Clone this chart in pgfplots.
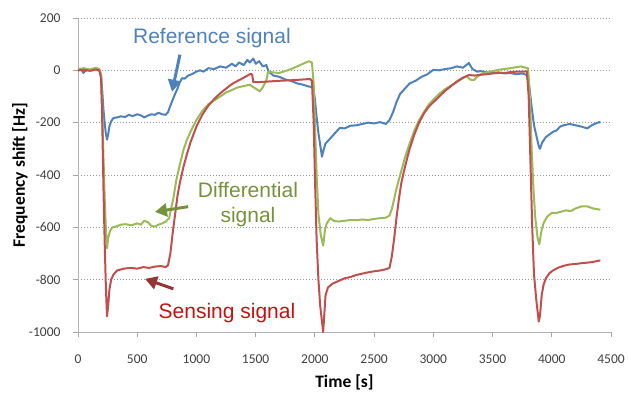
\documentclass[border=0pt]{standalone}
\usepackage{pgfplots}
\pgfplotsset{compat=1.18}
\usepackage{fontspec}
\setmainfont{Carlito}
\newfontfamily\arialf{Liberation Sans}
\usetikzlibrary{arrows.meta}
\definecolor{cblue}{RGB}{79,129,189}
\definecolor{cred}{RGB}{192,80,77}
\definecolor{cgreen}{RGB}{155,187,89}
\definecolor{tgreen}{RGB}{118,146,60}
\definecolor{tred}{RGB}{200,16,16}
\definecolor{ared}{RGB}{148,54,52}
\definecolor{tickc}{RGB}{64,64,64}
\begin{document}
\begin{tikzpicture}
\begin{axis}[
  scale only axis, width=533bp, height=314bp,
  xmin=0, xmax=4500, ymin=-1000, ymax=200,
  xtick={0,500,...,4500}, ytick={-1000,-800,...,200},
  axis x line*=bottom, axis y line*=left,
  axis line style={draw=black!30, line width=0.8bp},
  tick align=outside, major tick length=5bp,
  tick style={draw=black!35, line width=0.8bp},
  ymajorgrids, major grid style={draw=black!40, line width=0.8bp, dash pattern=on 1.5bp off 1.5bp},
  /pgf/number format/assume math mode=true,
  /pgf/number format/.cd, 1000 sep={}, /pgfplots/.cd,
  ticklabel style={font=\fontsize{13.5bp}{16bp}\selectfont, text=tickc},
  xticklabel shift=14bp, yticklabel shift=9bp,
  xlabel={\textbf{Time [s]}}, ylabel={\textbf{Frequency shift [Hz]}},
  label style={font=\fontsize{17.5bp}{20bp}\selectfont},
  xlabel style={at={(axis description cs:0.5,-0.159)}, anchor=center},
  ylabel style={at={(axis description cs:-0.109,0.5)}, anchor=center},
  clip=false,
  every axis plot/.append style={line width=2bp, line join=round},
]
\path (axis description cs:-0.1463,-0.2006) rectangle (axis description cs:1.0319,1.0573);
% Reference signal
\addplot[cblue] coordinates {
(0,0) (30,2) (45,-10) (60,-3) (90,3) (120,0) (150,5) (180,2) (195,-20) (205,-80) (215,-150) (225,-200) (235,-240) (245,-265) (255,-245) (265,-215) (280,-195) (300,-182) (330,-180) (360,-176) (400,-178) (430,-170) (460,-175) (500,-168) (530,-172) (560,-180) (590,-173) (620,-168) (650,-170) (680,-162) (710,-168) (740,-170) (760,-160) (780,-135) (800,-112) (820,-90) (840,-70) (860,-45) (880,-30) (900,-32) (930,-20) (960,-15) (1000,-5) (1030,0) (1060,-5) (1100,8) (1150,5) (1200,15) (1250,10) (1300,25) (1330,15) (1360,30) (1400,20) (1430,40) (1450,30) (1480,45) (1500,25) (1530,35) (1560,15) (1590,20) (1610,-5) (1650,-20) (1700,-25) (1750,-35) (1800,-40) (1850,-50) (1900,-55) (1950,-62) (1985,-65) (2000,-110) (2015,-180) (2030,-240) (2050,-300) (2060,-330) (2070,-310) (2090,-280) (2120,-265) (2150,-250) (2180,-235) (2210,-220) (2250,-222) (2300,-212) (2350,-210) (2400,-205) (2450,-200) (2500,-203) (2550,-198) (2600,-205) (2630,-190) (2660,-160) (2690,-120) (2720,-90) (2760,-70) (2800,-50) (2850,-40) (2900,-25) (2950,-15) (3000,2) (3050,0) (3100,5) (3150,8) (3200,15) (3250,10) (3300,28) (3330,5) (3370,-5) (3400,-3) (3450,-8) (3500,-10) (3550,-8) (3600,-12) (3650,-10) (3700,-15) (3750,-12) (3790,-18) (3810,-60) (3830,-140) (3850,-210) (3870,-250) (3890,-290) (3900,-300) (3920,-275) (3950,-255) (3980,-245) (4010,-235) (4040,-230) (4070,-215) (4100,-210) (4150,-205) (4200,-210) (4250,-215) (4300,-222) (4330,-212) (4360,-205) (4400,-198) (4410,-200)
};
% Differential signal
\addplot[cgreen] coordinates {
(0,5) (50,8) (100,3) (150,10) (180,5) (195,-20) (205,-150) (215,-330) (225,-480) (235,-600) (245,-680) (255,-640) (270,-615) (290,-600) (320,-597) (360,-590) (400,-588) (450,-592) (500,-585) (530,-590) (560,-575) (590,-580) (620,-595) (650,-597) (680,-590) (710,-585) (740,-578) (770,-565) (790,-520) (805,-490) (830,-420) (860,-360) (890,-305) (920,-265) (960,-225) (1000,-190) (1050,-155) (1100,-130) (1150,-115) (1200,-100) (1250,-85) (1300,-75) (1350,-65) (1400,-60) (1450,-55) (1500,-70) (1535,-80) (1560,-65) (1590,-40) (1605,-5) (1650,-8) (1700,-10) (1750,-3) (1800,5) (1850,15) (1900,25) (1950,35) (1975,30) (1990,-50) (2000,-200) (2015,-400) (2030,-550) (2050,-630) (2070,-670) (2085,-610) (2100,-585) (2130,-565) (2160,-575) (2200,-578) (2250,-575) (2300,-572) (2350,-573) (2400,-570) (2450,-572) (2500,-568) (2550,-565) (2600,-563) (2630,-555) (2650,-530) (2670,-490) (2690,-450) (2720,-400) (2760,-335) (2800,-280) (2840,-230) (2880,-190) (2920,-160) (2960,-132) (3000,-112) (3050,-90) (3100,-72) (3150,-58) (3200,-45) (3250,-30) (3280,-22) (3310,-35) (3340,-38) (3370,-25) (3400,-15) (3450,-8) (3500,-3) (3550,2) (3600,5) (3650,8) (3700,12) (3740,15) (3780,10) (3800,8) (3815,-100) (3830,-300) (3845,-450) (3860,-560) (3880,-640) (3895,-665) (3910,-620) (3930,-585) (3960,-560) (4000,-545) (4040,-545) (4080,-540) (4120,-535) (4160,-538) (4200,-528) (4250,-520) (4300,-520) (4350,-528) (4400,-532) (4410,-533)
};
% Sensing signal
\addplot[cred] coordinates {
(0,0) (50,2) (100,-2) (150,3) (180,0) (195,-30) (205,-200) (215,-450) (225,-650) (235,-820) (245,-940) (255,-900) (265,-840) (280,-800) (300,-780) (330,-765) (370,-760) (400,-757) (450,-755) (500,-758) (550,-752) (600,-755) (650,-750) (700,-748) (740,-752) (760,-745) (780,-700) (800,-620) (820,-550) (840,-480) (860,-430) (890,-370) (920,-320) (950,-275) (1000,-215) (1050,-170) (1100,-135) (1150,-110) (1200,-88) (1250,-70) (1300,-52) (1350,-40) (1400,-28) (1450,-15) (1470,-15) (1480,-45) (1520,-45) (1600,-43) (1700,-40) (1800,-38) (1900,-35) (1960,-33) (1975,-40) (1990,-200) (2000,-400) (2015,-650) (2030,-800) (2045,-900) (2060,-960) (2070,-1000) (2080,-930) (2090,-860) (2110,-830) (2150,-815) (2200,-805) (2250,-795) (2300,-790) (2350,-782) (2400,-777) (2450,-772) (2500,-768) (2550,-765) (2600,-760) (2630,-755) (2650,-710) (2670,-640) (2690,-560) (2710,-490) (2730,-430) (2760,-370) (2800,-300) (2840,-245) (2880,-200) (2920,-165) (2960,-140) (3000,-122) (3050,-100) (3100,-78) (3150,-60) (3200,-42) (3250,-28) (3300,-18) (3350,-20) (3400,-17) (3450,-15) (3500,-12) (3550,-10) (3600,-10) (3650,-7) (3700,-5) (3750,-5) (3790,-4) (3805,-100) (3820,-350) (3835,-600) (3850,-780) (3870,-880) (3890,-960) (3900,-940) (3915,-860) (3930,-820) (3950,-795) (3980,-775) (4010,-765) (4050,-755) (4100,-747) (4150,-742) (4200,-740) (4250,-737) (4300,-735) (4350,-732) (4400,-727) (4410,-728)
};
% annotations
\node[text=cblue, font=\arialf\fontsize{21bp}{25bp}\selectfont] at (axis cs:1131,125) {Reference signal};
\node[text=tgreen, font=\arialf\fontsize{21bp}{25bp}\selectfont, align=center] at (axis cs:1435,-512) {Differential\\signal};
\node[text=tred, font=\arialf\fontsize{21bp}{25bp}\selectfont] at (axis cs:1258,-926) {Sensing signal};
\draw[cblue, line width=3bp, -{Triangle[length=12bp,width=13bp]}] (axis cs:861,60) -- (axis cs:794,-82);
\draw[tgreen, line width=3bp, -{Triangle[length=12bp,width=13bp]}] (axis cs:930,-521) -- (axis cs:650,-541);
\draw[ared, line width=3bp, -{Triangle[length=12bp,width=13bp]}] (axis cs:805,-835) -- (axis cs:566,-797);
\end{axis}
\end{tikzpicture}
\end{document}
